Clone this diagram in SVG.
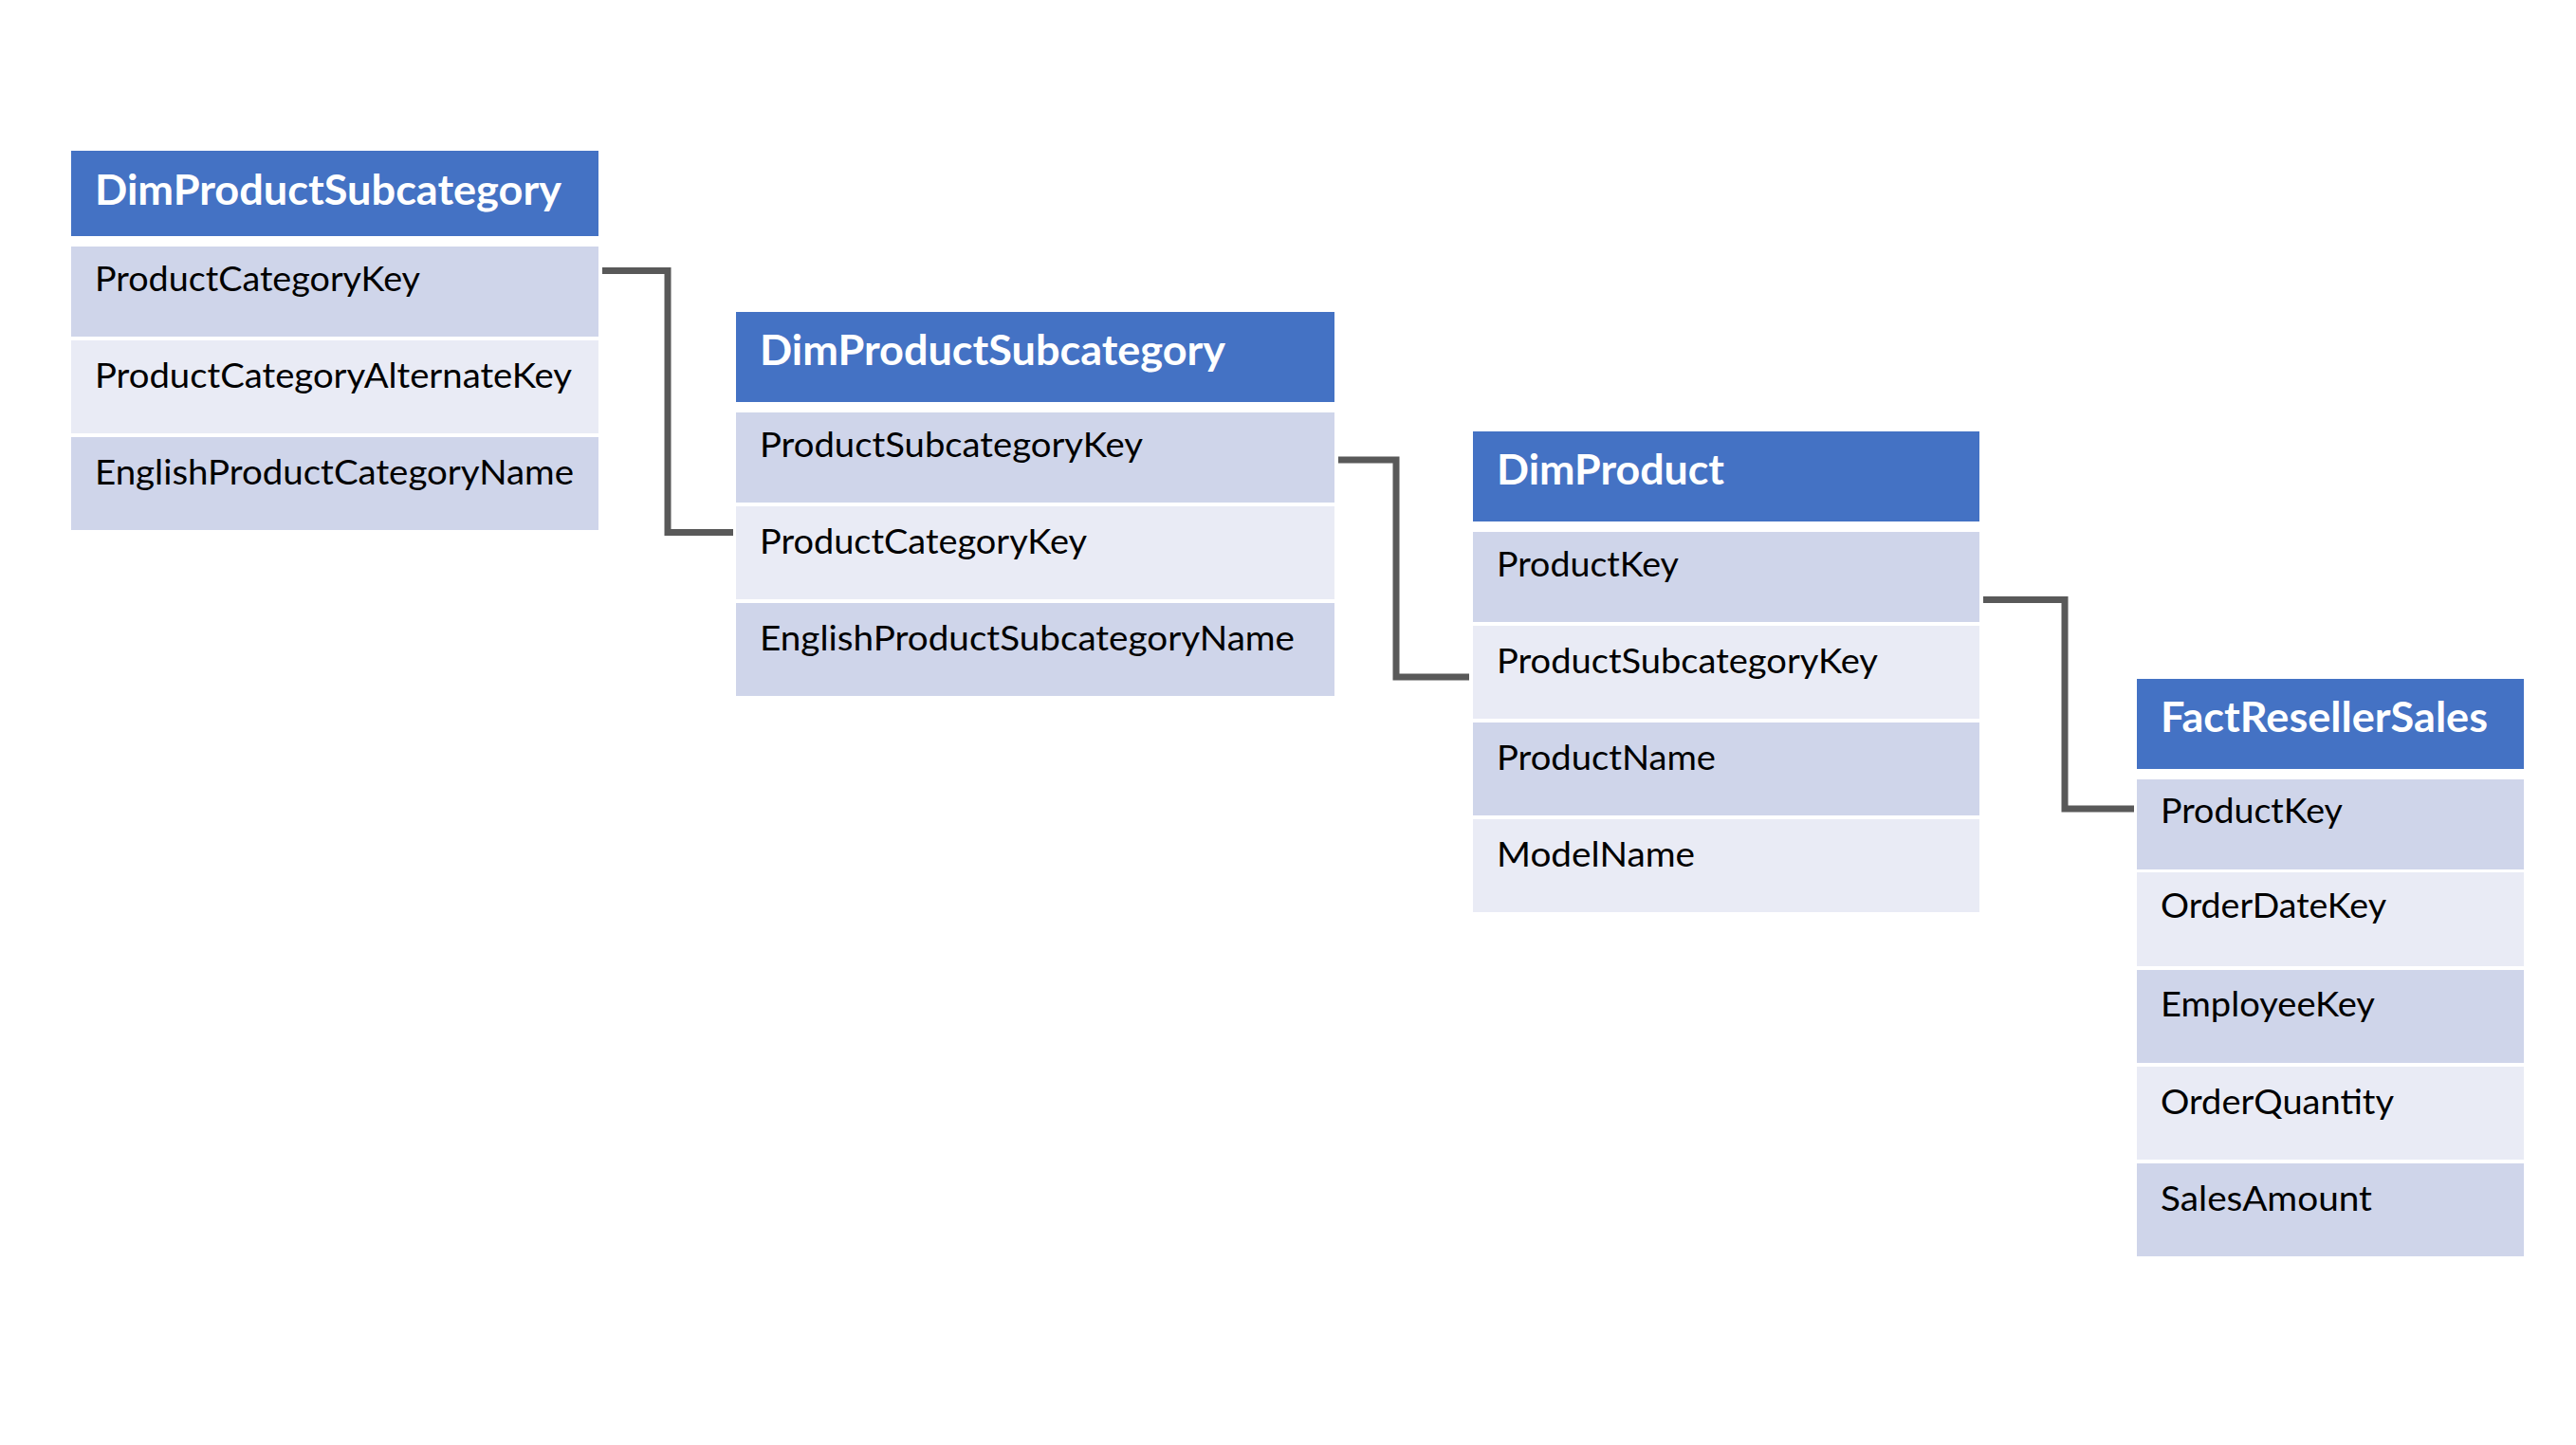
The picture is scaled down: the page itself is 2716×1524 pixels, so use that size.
<svg xmlns="http://www.w3.org/2000/svg" width="2716" height="1524" viewBox="0 0 2716 1524">
<style>
.hd{fill:#4472C4}
.dk{fill:#CFD5EA}
.lt{fill:#E9EBF5}
.ht{font-family:Lato,"Liberation Sans",sans-serif;font-weight:bold;font-size:43px;fill:#FFFFFF}
.rt{font-family:Lato,"Liberation Sans",sans-serif;font-size:37px;fill:#000000}
.cn{fill:none;stroke:#595959;stroke-width:7;stroke-linejoin:miter;stroke-linecap:butt}
</style>
<rect x="0" y="0" width="2716" height="1524" fill="#FFFFFF"/>
<g id="connectors">
<path class="cn" d="M635,285.5 H704 V561.5 H773"/>
<path class="cn" d="M1411,485 H1472 V714 H1549"/>
<path class="cn" d="M2091,632.5 H2177 V853 H2250"/>
</g>
<g id="table-dimproductcategory">
<rect class="hd" x="75" y="159" width="556" height="90"/>
<text class="ht" x="100" y="216" textLength="492" lengthAdjust="spacingAndGlyphs">DimProductSubcategory</text>
<rect class="dk" x="75" y="260" width="556" height="95"/>
<text class="rt" x="100" y="307" textLength="343" lengthAdjust="spacingAndGlyphs">ProductCategoryKey</text>
<rect class="lt" x="75" y="359" width="556" height="98"/>
<text class="rt" x="100" y="409" textLength="503" lengthAdjust="spacingAndGlyphs">ProductCategoryAlternateKey</text>
<rect class="dk" x="75" y="461" width="556" height="98"/>
<text class="rt" x="100" y="511" textLength="505" lengthAdjust="spacingAndGlyphs">EnglishProductCategoryName</text>
</g>
<g id="table-dimproductsubcategory">
<rect class="hd" x="776" y="329" width="631" height="95"/>
<text class="ht" x="801" y="385" textLength="491" lengthAdjust="spacingAndGlyphs">DimProductSubcategory</text>
<rect class="dk" x="776" y="435" width="631" height="95"/>
<text class="rt" x="801" y="482" textLength="404" lengthAdjust="spacingAndGlyphs">ProductSubcategoryKey</text>
<rect class="lt" x="776" y="534" width="631" height="98"/>
<text class="rt" x="801" y="584" textLength="345" lengthAdjust="spacingAndGlyphs">ProductCategoryKey</text>
<rect class="dk" x="776" y="636" width="631" height="98"/>
<text class="rt" x="801" y="686" textLength="564" lengthAdjust="spacingAndGlyphs">EnglishProductSubcategoryName</text>
</g>
<g id="table-dimproduct">
<rect class="hd" x="1553" y="455" width="534" height="95"/>
<text class="ht" x="1578" y="511" textLength="240" lengthAdjust="spacingAndGlyphs">DimProduct</text>
<rect class="dk" x="1553" y="561" width="534" height="95"/>
<text class="rt" x="1578" y="608" textLength="192" lengthAdjust="spacingAndGlyphs">ProductKey</text>
<rect class="lt" x="1553" y="660" width="534" height="98"/>
<text class="rt" x="1578" y="710" textLength="402" lengthAdjust="spacingAndGlyphs">ProductSubcategoryKey</text>
<rect class="dk" x="1553" y="762" width="534" height="98"/>
<text class="rt" x="1578" y="812" textLength="231" lengthAdjust="spacingAndGlyphs">ProductName</text>
<rect class="lt" x="1553" y="864" width="534" height="98"/>
<text class="rt" x="1578" y="914" textLength="209" lengthAdjust="spacingAndGlyphs">ModelName</text>
</g>
<g id="table-factresellersales">
<rect class="hd" x="2253" y="716" width="408" height="95"/>
<text class="ht" x="2278" y="772" textLength="345" lengthAdjust="spacingAndGlyphs">FactResellerSales</text>
<rect class="dk" x="2253" y="822" width="408" height="95"/>
<text class="rt" x="2278" y="868" textLength="192" lengthAdjust="spacingAndGlyphs">ProductKey</text>
<rect class="lt" x="2253" y="920" width="408" height="99"/>
<text class="rt" x="2278" y="968" textLength="238" lengthAdjust="spacingAndGlyphs">OrderDateKey</text>
<rect class="dk" x="2253" y="1023" width="408" height="98"/>
<text class="rt" x="2278" y="1072" textLength="226" lengthAdjust="spacingAndGlyphs">EmployeeKey</text>
<rect class="lt" x="2253" y="1125" width="408" height="98"/>
<text class="rt" x="2278" y="1175" textLength="246" lengthAdjust="spacingAndGlyphs">OrderQuantity</text>
<rect class="dk" x="2253" y="1227" width="408" height="98"/>
<text class="rt" x="2278" y="1277" textLength="223" lengthAdjust="spacingAndGlyphs">SalesAmount</text>
</g>
</svg>
